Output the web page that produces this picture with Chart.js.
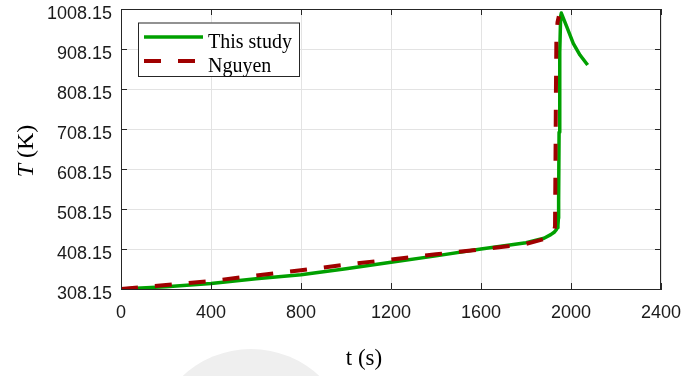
<!DOCTYPE html>
<html>
<head>
<meta charset="utf-8">
<script src="https://cdn.jsdelivr.net/npm/chart.js@4/dist/chart.umd.min.js"></script>
<style>
html,body{margin:0;padding:0;background:#fff;}
#wrap{width:698px;height:376px;position:relative;}
</style>
</head>
<body>
<div id="wrap"><canvas id="c" width="698" height="376"></canvas></div>
<script>
// ---- data ----
const seriesNames = ['This study', 'Nguyen'];
const studyTime = [0, 200, 400, 600, 800, 1000, 1200, 1400, 1600, 1800, 1880, 1910, 1925, 1934, 1939, 1942, 1944, 1945, 1947, 1950, 1954, 1957, 1981, 2010, 2040, 2074];
const studyTemp = [308.15, 314, 322, 334, 344, 359, 375, 391, 408, 424, 435, 444, 450, 456, 461, 468, 485, 530, 700, 900, 990, 998, 964, 922, 893, 868];
const nguyenTime = [0, 200, 400, 600, 800, 1000, 1200, 1400, 1600, 1800, 1880, 1910, 1925, 1929, 1931, 1933, 1935, 1940, 1946];
const nguyenTemp = [308.15, 318, 328, 342, 355, 369, 382, 395, 407, 421, 433, 441, 452, 465, 620, 800, 930, 975, 990];
const xTicks = [0, 400, 800, 1200, 1600, 2000, 2400];
const yTicks = [308.15, 408.15, 508.15, 608.15, 708.15, 808.15, 908.15, 1008.15];
const xTitle = 't (s)';
const yTitleItalic = 'T';
const yTitleRest = ' (K)';

const toPoints = (xs, ys) => xs.map((x, i) => ({x: x, y: ys[i]}));

const GREEN = '#00a000';
const RED = '#a00000';
const AXIS = '#262626';
const GRID = '#e3e3e3';
const TICKFONT = {family: '"Liberation Sans", Arial, sans-serif', size: 18};

const framePlugin = {
  id: 'frame',
  beforeDraw(chart) {
    const ctx = chart.ctx;
    ctx.save();
    ctx.fillStyle = '#efefef';
    ctx.beginPath();
    ctx.arc(251, 449, 100, 0, Math.PI * 2);
    ctx.fill();
    ctx.restore();
  },
  afterDraw(chart) {
    const ctx = chart.ctx;
    const a = chart.chartArea;
    const xs = chart.scales.x, ys = chart.scales.y;
    ctx.save();
    ctx.strokeStyle = AXIS;
    ctx.lineWidth = 1;
    ctx.beginPath();
    ctx.moveTo(a.left, a.top + 0.5); ctx.lineTo(a.right, a.top + 0.5);
    ctx.moveTo(a.right - 0.5, a.top); ctx.lineTo(a.right - 0.5, a.bottom);
    const L = 6;
    xTicks.forEach(v => {
      const px = Math.round(xs.getPixelForValue(v)) + 0.5;
      ctx.moveTo(px, a.bottom); ctx.lineTo(px, a.bottom - L);
      ctx.moveTo(px, a.top); ctx.lineTo(px, a.top + L);
    });
    yTicks.forEach(v => {
      const py = Math.round(ys.getPixelForValue(v)) + 0.5;
      ctx.moveTo(a.left, py); ctx.lineTo(a.left + L, py);
      ctx.moveTo(a.right, py); ctx.lineTo(a.right - L, py);
    });
    ctx.stroke();

    // legend
    const lx = 138, ly = 22.5, lw = 161, lh = 53.5;
    ctx.fillStyle = '#fff';
    ctx.fillRect(lx, ly, lw, lh);
    ctx.strokeStyle = AXIS;
    ctx.strokeRect(lx + 0.5, ly + 0.5, lw, lh);
    ctx.lineWidth = 3.5;
    ctx.strokeStyle = GREEN;
    ctx.beginPath(); ctx.moveTo(144, 37); ctx.lineTo(203, 37); ctx.stroke();
    ctx.lineWidth = 4;
    ctx.strokeStyle = RED;
    ctx.setLineDash([17, 17]);
    ctx.beginPath(); ctx.moveTo(144, 61); ctx.lineTo(203, 61); ctx.stroke();
    ctx.setLineDash([]);
    ctx.fillStyle = '#000';
    ctx.font = '20px "Liberation Serif", "Times New Roman", serif';
    ctx.textAlign = 'left';
    ctx.textBaseline = 'alphabetic';
    ctx.fillText(seriesNames[0], 208, 48);
    ctx.fillText(seriesNames[1], 208, 72);

    // x title
    ctx.font = '23px "Liberation Serif", "Times New Roman", serif';
    ctx.textAlign = 'center';
    ctx.fillText(xTitle, 364, 365);

    // y title (rotated, italic T)
    ctx.save();
    ctx.translate(33, 151);
    ctx.rotate(-Math.PI / 2);
    ctx.textAlign = 'left';
    const fItal = 'italic 24px "Liberation Serif", "Times New Roman", serif';
    const fReg = '24px "Liberation Serif", "Times New Roman", serif';
    ctx.font = fItal; const w1 = ctx.measureText(yTitleItalic).width;
    ctx.font = fReg; const w2 = ctx.measureText(yTitleRest).width;
    const start = -(w1 + w2) / 2;
    ctx.font = fItal; ctx.fillText(yTitleItalic, start, 0);
    ctx.font = fReg; ctx.fillText(yTitleRest, start + w1, 0);
    ctx.restore();
    ctx.restore();
  }
};

new Chart(document.getElementById('c'), {
  type: 'line',
  data: {
    datasets: [
      {
        label: seriesNames[0],
        data: toPoints(studyTime, studyTemp),
        borderColor: GREEN,
        backgroundColor: GREEN,
        borderWidth: 3.5,
        pointRadius: 0,
        tension: 0,
        borderJoinStyle: 'round',
        fill: false,
        order: 2
      },
      {
        label: seriesNames[1],
        data: toPoints(nguyenTime, nguyenTemp),
        borderColor: RED,
        backgroundColor: RED,
        borderWidth: 4,
        borderDash: [17, 17],
        pointRadius: 0,
        tension: 0,
        fill: false,
        order: 1
      }
    ]
  },
  options: {
    responsive: false,
    animation: false,
    devicePixelRatio: 1,
    layout: {padding: {left: 0, top: 9, right: 37, bottom: 0}},
    plugins: {legend: {display: false}, tooltip: {enabled: false}},
    scales: {
      x: {
        type: 'linear',
        min: 0, max: 2400,
        afterBuildTicks: s => { s.ticks = xTicks.map(v => ({value: v})); },
        afterFit: s => { s.height = 87; s.paddingLeft = 0; s.paddingRight = 0; },
        ticks: {font: TICKFONT, color: '#1a1a1a', padding: 13, maxRotation: 0, autoSkip: false,
                callback: v => String(v)},
        grid: {color: GRID, drawTicks: false},
        border: {color: AXIS, width: 1}
      },
      y: {
        type: 'linear',
        min: 308.15, max: 1008.15,
        afterBuildTicks: s => { s.ticks = yTicks.map(v => ({value: v})); },
        afterFit: s => { s.width = 121; s.paddingTop = 0; s.paddingBottom = 0; },
        ticks: {font: TICKFONT, color: '#1a1a1a', padding: 9, labelOffset: 5, autoSkip: false,
                callback: v => Number(v).toFixed(2)},
        grid: {color: GRID, drawTicks: false},
        border: {color: AXIS, width: 1}
      }
    }
  },
  plugins: [framePlugin]
});
</script>
</body>
</html>
